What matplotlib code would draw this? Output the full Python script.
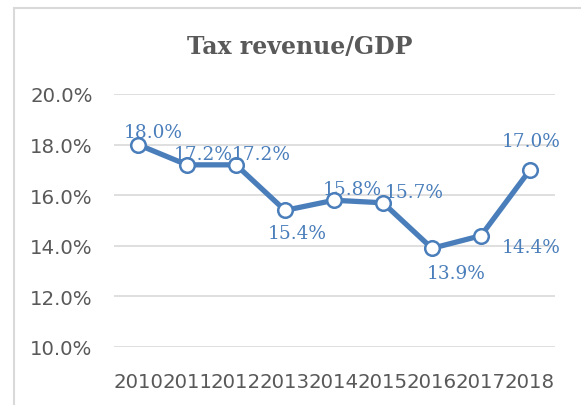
import matplotlib
matplotlib.use('Agg')
import matplotlib.pyplot as plt
from matplotlib.patches import Rectangle

# data
years = ['2010', '2011', '2012', '2013', '2014', '2015', '2016', '2017', '2018']
tax_ratio = [18.0, 17.2, 17.2, 15.4, 15.8, 15.7, 13.9, 14.4, 17.0]
y_ticks = [10, 12, 14, 16, 18, 20]

# label offsets in pixels (dx, dy)
label_offsets = [(15, 13), (16, 11), (25, 11), (12, -23), (18, 11),
                 (31, 11), (24, -25), (50, -11), (1, 29)]

blue = '#4A7EBB'
grey = '#595959'

fig = plt.figure(figsize=(5.81, 4.06), dpi=100)
ax = fig.add_axes([113.5 / 581, 1 - 348 / 406, 441 / 581, 253 / 406])

# chart border
fig.patches.append(Rectangle((14 / 581, -0.1), 1.2, 1 - 9 / 406 + 0.1,
                             transform=fig.transFigure, fill=False,
                             edgecolor='#D9D9D9', linewidth=1.5))

x = list(range(len(years)))
ax.plot(x, tax_ratio, color=blue, linewidth=3.8, marker='o', markersize=10.5,
        markerfacecolor='white', markeredgecolor=blue, markeredgewidth=1.8,
        zorder=3)

for i, v in enumerate(tax_ratio):
    dx, dy = label_offsets[i]
    ax.annotate(f'{v:.1f}%', (i, v), xytext=(dx, dy), textcoords='offset pixels',
                ha='center', va='center', color=blue, fontsize=13.3,
                family='DejaVu Serif', zorder=4)

ax.set_xlim(-0.5, len(years) - 0.5)
ax.set_ylim(10, 20)
ax.set_yticks(y_ticks)
ax.set_yticklabels([f'{t:.1f}%' for t in y_ticks])
ax.set_xticks(x)
ax.set_xticklabels(years)
ax.grid(axis='y', color='#D9D9D9', linewidth=1.2)
ax.set_axisbelow(True)
for s in ax.spines.values():
    s.set_visible(False)
ax.tick_params(axis='both', length=0, colors=grey, labelsize=14.2)
ax.tick_params(axis='y', pad=15)
ax.tick_params(axis='x', pad=18)
for lab in ax.get_xticklabels() + ax.get_yticklabels():
    lab.set_family('DejaVu Sans')

fig.text(300 / 581, 1 - 47 / 406, 'Tax revenue/GDP', ha='center', va='center',
         fontsize=17, fontweight='bold', family='DejaVu Serif', color=grey)

fig.savefig('out.png', dpi=100)
